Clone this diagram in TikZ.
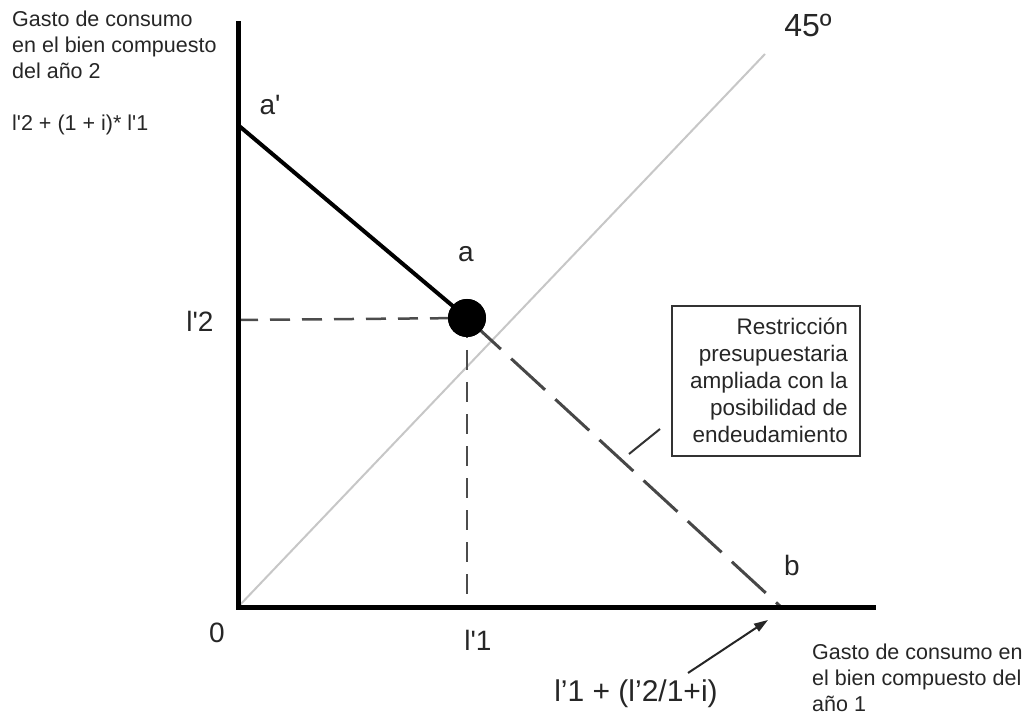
\documentclass[tikz,border=0pt]{standalone}
\usepackage{fontspec}
\setmainfont{Liberation Sans}
\usetikzlibrary{arrows.meta}
\begin{document}
\begin{tikzpicture}[x=1pt,y=-1pt,
  lbl/.style={font=\fontsize{21.5}{26}\selectfont, text=black!85, inner sep=0pt},
  boxfont/.style={font=\fontsize{22.5}{27}\selectfont, text=black!85, inner sep=0pt},
  big/.style={font=\fontsize{28}{32}\selectfont, text=black!85, inner sep=0pt},
  axisline/.style={line width=5pt, line cap=rect, draw=black},
  guide/.style={draw=black!70, line width=2.5pt, dash pattern=on 20pt off 12pt},
  budgetdash/.style={draw=black!72, line width=3pt, dash pattern=on 46pt off 14pt},
  diag/.style={draw=black!22, line width=2pt},
  boxstyle/.style={draw=black!80, line width=2pt, minimum width=188pt, minimum height=149pt, inner sep=0pt},
  pointer/.style={draw=black!80, line width=2pt},
  arrowline/.style={draw=black!85, line width=2pt, -{Triangle[length=14pt,width=9pt]}}
]
\useasboundingbox (0,0) rectangle (1026,727);

% coordinates
\coordinate (O) at (238,607);
\coordinate (ytop) at (238,24);
\coordinate (xend) at (873,607);
\coordinate (d45) at (765,54);
\coordinate (ap) at (238,125);
\coordinate (b) at (781,607);
\coordinate (l2) at (238,320);
\coordinate (l1) at (467,607);
\coordinate (ptrA) at (660,429);
\coordinate (ptrB) at (629,454);
\coordinate (arrA) at (688,673);
\coordinate (arrB) at (768,620);

% 45 degree line
\draw[diag] (O) -- (d45);

% guides
\node[circle, fill=black, minimum size=38pt, inner sep=0pt] (a) at (467,318) {};
\draw[guide] (l2) -- (a.center);
\draw[guide] (a.center) -- (l1);

% budget line
\draw[line width=4pt, draw=black] (ap) -- (a.center);
\draw[budgetdash] (a.center) -- (b);

% redraw dot on top
\node[circle, fill=black, minimum size=38pt, inner sep=0pt] (adot) at (467,318) {};

% axes
\draw[axisline] (ytop) -- (O) -- (xend);

% box
\node[boxstyle] (box) at (766,381) {};
\node[boxfont, align=right, anchor=north east] (boxtext) at (848,318)
  {Restricción\\presupuestaria\\ampliada con la\\posibilidad de\\endeudamiento};
\draw[pointer] (ptrA) -- (ptrB);

% arrow
\draw[arrowline] (arrA) -- (arrB);

% labels
\node[lbl, align=left, anchor=north west] (ylab) at (12,11)
  {Gasto de consumo\\en el bien compuesto\\del año 2};
\node[lbl, anchor=base west] (yint) at (12,131) {l\textquotesingle2 + (1 + i)* l\textquotesingle1};
\node[lbl, align=left, anchor=north west] (xlab) at (812,644)
  {Gasto de consumo en\\el bien compuesto del\\año 1};
\node[big, anchor=base] (lap) at (270,115) {a\textquotesingle};
\node[big, anchor=base] (la) at (466,262) {a};
\node[big, anchor=base] (ll2) at (200,332) {l\textquotesingle2};
\node[big, anchor=base] (l0) at (217,642) {0};
\node[big, anchor=base] (ll1) at (478,650) {l\textquotesingle1};
\node[big, anchor=base] (lb) at (792,575) {b};
\node[big, font=\fontsize{32}{36}\selectfont, anchor=base] (l45) at (808,37) {45º};
\node[big, font=\fontsize{30}{34}\selectfont, anchor=base] (xint) at (636,701) {l’1 + (l’2/1+i)};
\end{tikzpicture}
\end{document}
